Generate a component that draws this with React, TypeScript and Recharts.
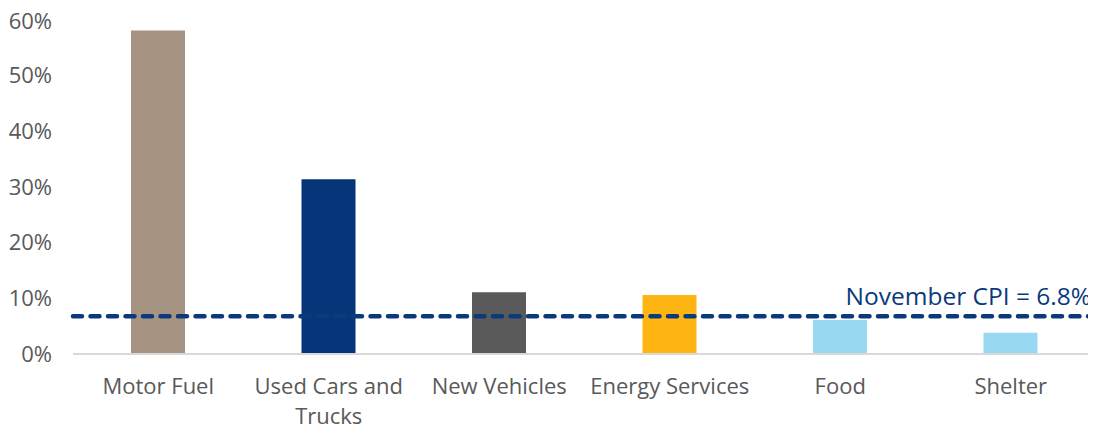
import { Bar, BarChart, Cell, ReferenceLine, XAxis, YAxis } from "recharts"

const categories = ["Motor Fuel", "Used Cars and Trucks", "New Vehicles", "Energy Services", "Food", "Shelter"]
const changes = [58.1, 31.4, 11.1, 10.6, 6.1, 3.8]
const yTicks = [0, 10, 20, 30, 40, 50, 60]
const cpi = 6.8

const COLORS = ["#a69382", "#06357a", "#5a5a5a", "#ffb612", "#98d8f3", "#98d8f3"]

const data = categories.map((name, i) => ({ name, value: changes[i] }))

const FONT = "'Open Sans', sans-serif"

// wraps the long category name onto two lines like the original
const CategoryTick = (props: any) => {
  const { x, y, payload } = props
  const lines = payload.value === "Used Cars and Trucks" ? ["Used Cars and", "Trucks"] : [payload.value]
  return (
    <text x={x} y={y} textAnchor="middle" fill="#595959" fontSize={22} fontFamily={FONT}>
      {lines.map((l, i) => (
        <tspan key={i} x={x} dy={i === 0 ? "0.71em" : 30}>{l}</tspan>
      ))}
    </text>
  )
}

const CpiLabel = (props: any) => {
  const { viewBox } = props
  return (
    <text x={viewBox.x + viewBox.width - 5} y={viewBox.y - 11} textAnchor="end" fill="#0b3a7c" fontSize={24.5} fontFamily={FONT}>
      {`November CPI = ${cpi}%`}
    </text>
  )
}

export default function App() {
  return (
    <div>
      <style>{`.recharts-surface { overflow: visible; }`}</style>
      <BarChart width={1088} height={422} data={data} margin={{ top: 12, right: 0, bottom: 0, left: 0 }}>
        <XAxis
          dataKey="name"
          height={76}
          tickLine={false}
          axisLine={{ stroke: "#d9d9d9", strokeWidth: 2 }}
          tickMargin={18}
          tick={<CategoryTick />}
          interval={0}
        />
        <YAxis
          width={65}
          domain={[0, 60]}
          ticks={yTicks}
          tickFormatter={(v) => `${v}%`}
          axisLine={false}
          tickLine={false}
          tickMargin={15}
          tick={{ fill: "#595959", fontSize: 22, fontFamily: FONT }}
        />
        <Bar dataKey="value" barSize={54} isAnimationActive={false}>
          {data.map((entry, index) => (
            <Cell key={`cell-${index}`} fill={COLORS[index]} />
          ))}
        </Bar>
        <ReferenceLine
          y={cpi}
          stroke="#0b3a7c"
          strokeWidth={4.5}
          strokeDasharray="9 8.5"
          strokeLinecap="round"
          label={<CpiLabel />}
        />
      </BarChart>
    </div>
  )
}
